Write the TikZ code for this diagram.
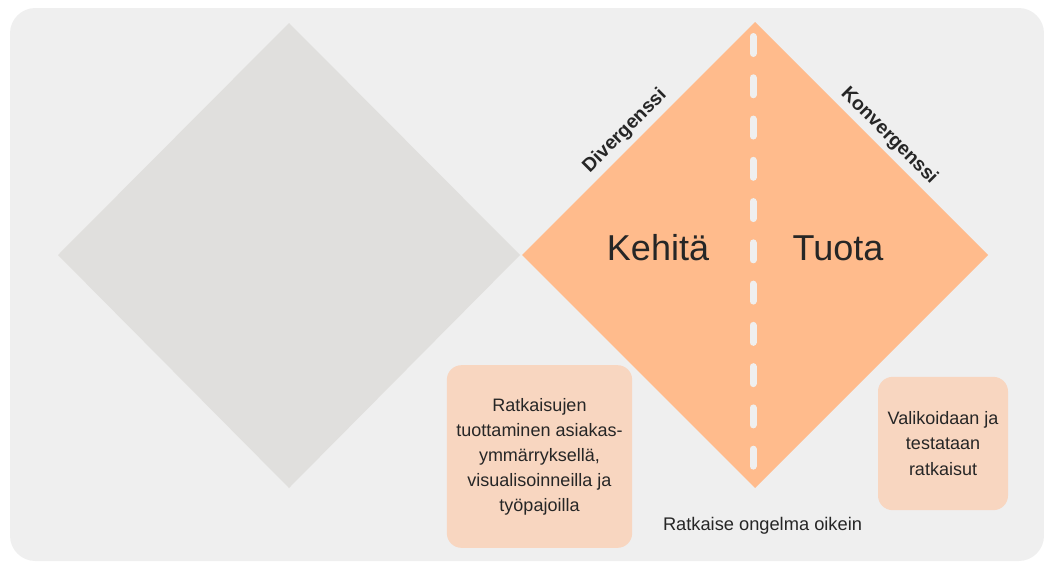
\documentclass[tikz,border=0pt]{standalone}
\usepackage{fontspec}
\setmainfont{Liberation Sans}
\usetikzlibrary{positioning}

\definecolor{taustaGray}{HTML}{EFEFEF}
\definecolor{vinoGray}{HTML}{E0DFDD}
\definecolor{timanttiOrange}{HTML}{FFBB8C}
\definecolor{lappuOrange}{HTML}{F8D6C0}
\definecolor{tekstiGray}{HTML}{262626}

\tikzset{
    lappu/.style={rectangle,fill=lappuOrange,rounded corners=11pt,align=center,inner sep=0pt,text=tekstiGray,font=\fontsize{13.5}{18.8}\selectfont},
    reunateksti/.style={inner sep=0pt,text=tekstiGray,font=\fontsize{14.5}{17}\selectfont\bfseries},
    isoteksti/.style={inner sep=0pt,anchor=base,text=tekstiGray,font=\fontsize{27}{32}\selectfont}
}

\begin{document}
\begin{tikzpicture}[x=0.75pt,y=-0.75pt]
    \useasboundingbox (0,0) rectangle (1044,561);
    % Tausta
    \fill[taustaGray,rounded corners=19pt] (10,8) rectangle (1044,561);

    % Harmaa timantti
    \fill[vinoGray] (289,23) -- (520,255) -- (289,488) -- (58,255) -- cycle;

    % Oranssi timantti
    \fill[timanttiOrange] (755,22) -- (988,255) -- (755,488) -- (522,255) -- cycle;
    \coordinate (viivaYla) at (753,36.5);
    \coordinate (viivaAla) at (753,466.5);
    \draw[taustaGray,line width=5.25pt,line cap=round,dash pattern=on 12.75pt off 18.2pt] (viivaYla) -- (viivaAla);

    \node[isoteksti] (kehita) at (658,260) {Kehitä};
    \node[isoteksti] (tuota) at (838,260) {Tuota};

    % Reunojen tekstit
    \node[reunateksti,rotate=45] (divergenssi) at (625,131) {Divergenssi};
    \node[reunateksti,rotate=-45] (konvergenssi) at (889,136) {Konvergenssi};

    % Laput
    \node[lappu,minimum width=139pt,minimum height=137pt] (kehitaLappu) at (539.5,456.5) {Ratkaisujen\\tuottaminen asiakas-\\ymmärryksellä,\\visualisoinneilla ja\\työpajoilla};
    \node[lappu,minimum width=97.5pt,minimum height=100pt] (tuotaLappu) at (943,443.5) {Valikoidaan ja\\testataan\\ratkaisut};

    \node[inner sep=0pt,anchor=base,text=tekstiGray,font=\fontsize{13.7}{16}\selectfont] (ongelma) at (762.5,530) {Ratkaise ongelma oikein};
\end{tikzpicture}
\end{document}
